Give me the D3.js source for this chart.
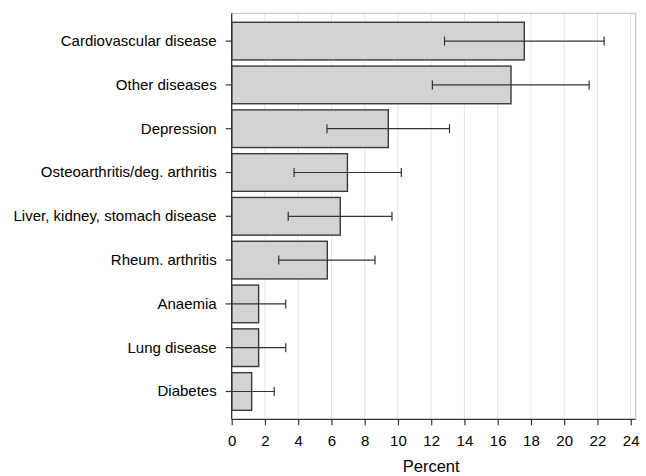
<!DOCTYPE html>
<html><head><meta charset="utf-8">
<script src="https://cdn.jsdelivr.net/npm/d3@7"></script>
<style>
html,body{margin:0;padding:0;background:#fff;}
svg{display:block;font-family:"Liberation Sans",Arial,sans-serif;}
</style></head>
<body><svg id="c" width="646" height="476"></svg>
<script>
const categories = ["Cardiovascular disease","Other diseases","Depression","Osteoarthritis/deg. arthritis","Liver, kidney, stomach disease","Rheum. arthritis","Anaemia","Lung disease","Diabetes"];
const values = [17.6, 16.8, 9.42, 6.96, 6.53, 5.75, 1.62, 1.62, 1.2];
const lower  = [12.8, 12.07, 5.73, 3.75, 3.4, 2.83, 0, 0, 0];
const upper  = [22.4, 21.5, 13.1, 10.2, 9.64, 8.62, 3.25, 3.25, 2.56];
const xTicks = [0,2,4,6,8,10,12,14,16,18,20,22,24];
const xLabel = "Percent";

const svg = d3.select("#c");
const L = 231.7, R = 635.7, T = 13.3, B = 419.3;
const x = d3.scaleLinear().domain([0, 24.3]).range([L, R]);
const y = d3.scaleBand().domain(categories).range([T, B]).paddingInner(0.14).paddingOuter(0.205);

// gridlines
svg.append("g").selectAll("line").data(xTicks.filter(d=>d>0)).join("line")
  .attr("x1",d=>x(d)).attr("x2",d=>x(d)).attr("y1",T).attr("y2",B)
  .attr("stroke","#e4e4e4").attr("stroke-width",1);
// frame top/right
svg.append("path").attr("d",`M${L},${T}H${R}V${B}`).attr("fill","none").attr("stroke","#bdbdbd").attr("stroke-width",1);

const data = categories.map((c,i)=>({c, v:values[i], lo:lower[i], hi:upper[i]}));
// bars
svg.append("g").selectAll("rect").data(data).join("rect")
  .attr("x",x(0)).attr("y",d=>y(d.c)).attr("width",d=>x(d.v)-x(0)).attr("height",y.bandwidth())
  .attr("fill","#d3d3d3").attr("stroke","#3a3a3a").attr("stroke-width",1.4);
// error bars
const eg = svg.append("g").attr("stroke","#333").attr("stroke-width",1.2);
data.forEach(d=>{
  const cy = y(d.c)+y.bandwidth()/2;
  eg.append("line").attr("x1",x(d.lo)).attr("x2",x(d.hi)).attr("y1",cy).attr("y2",cy);
  eg.append("line").attr("x1",x(d.hi)).attr("x2",x(d.hi)).attr("y1",cy-4.5).attr("y2",cy+4.5);
  if (d.lo>0) eg.append("line").attr("x1",x(d.lo)).attr("x2",x(d.lo)).attr("y1",cy-4.5).attr("y2",cy+4.5);
});

// axes
const xa = svg.append("g").attr("transform",`translate(0,${B})`)
  .call(d3.axisBottom(x).tickValues(xTicks).tickSize(6).tickPadding(10).tickFormat(d3.format("d")));
xa.select(".domain").attr("d",`M${L},0H${R}`).attr("stroke","#333").attr("stroke-width",1.3);
xa.selectAll(".tick line").attr("stroke","#333").attr("stroke-width",1.2);
xa.selectAll(".tick text").attr("font-size",15).attr("fill","#000").attr("font-family","Liberation Sans, Arial, sans-serif");

const ya = svg.append("g").attr("transform",`translate(${L},0)`)
  .call(d3.axisLeft(y).tickSize(6).tickPadding(9));
ya.select(".domain").attr("d",`M0,${T}V${B}`).attr("stroke","#333").attr("stroke-width",1.3);
ya.selectAll(".tick line").attr("stroke","#333").attr("stroke-width",1.2);
ya.selectAll(".tick text").attr("font-size",15).attr("fill","#000").attr("font-family","Liberation Sans, Arial, sans-serif");

svg.append("text").attr("x",(x(0)+x(24))/2).attr("y",472).attr("text-anchor","middle")
  .attr("font-size",16.5).attr("fill","#000").text(xLabel);
</script></body></html>
